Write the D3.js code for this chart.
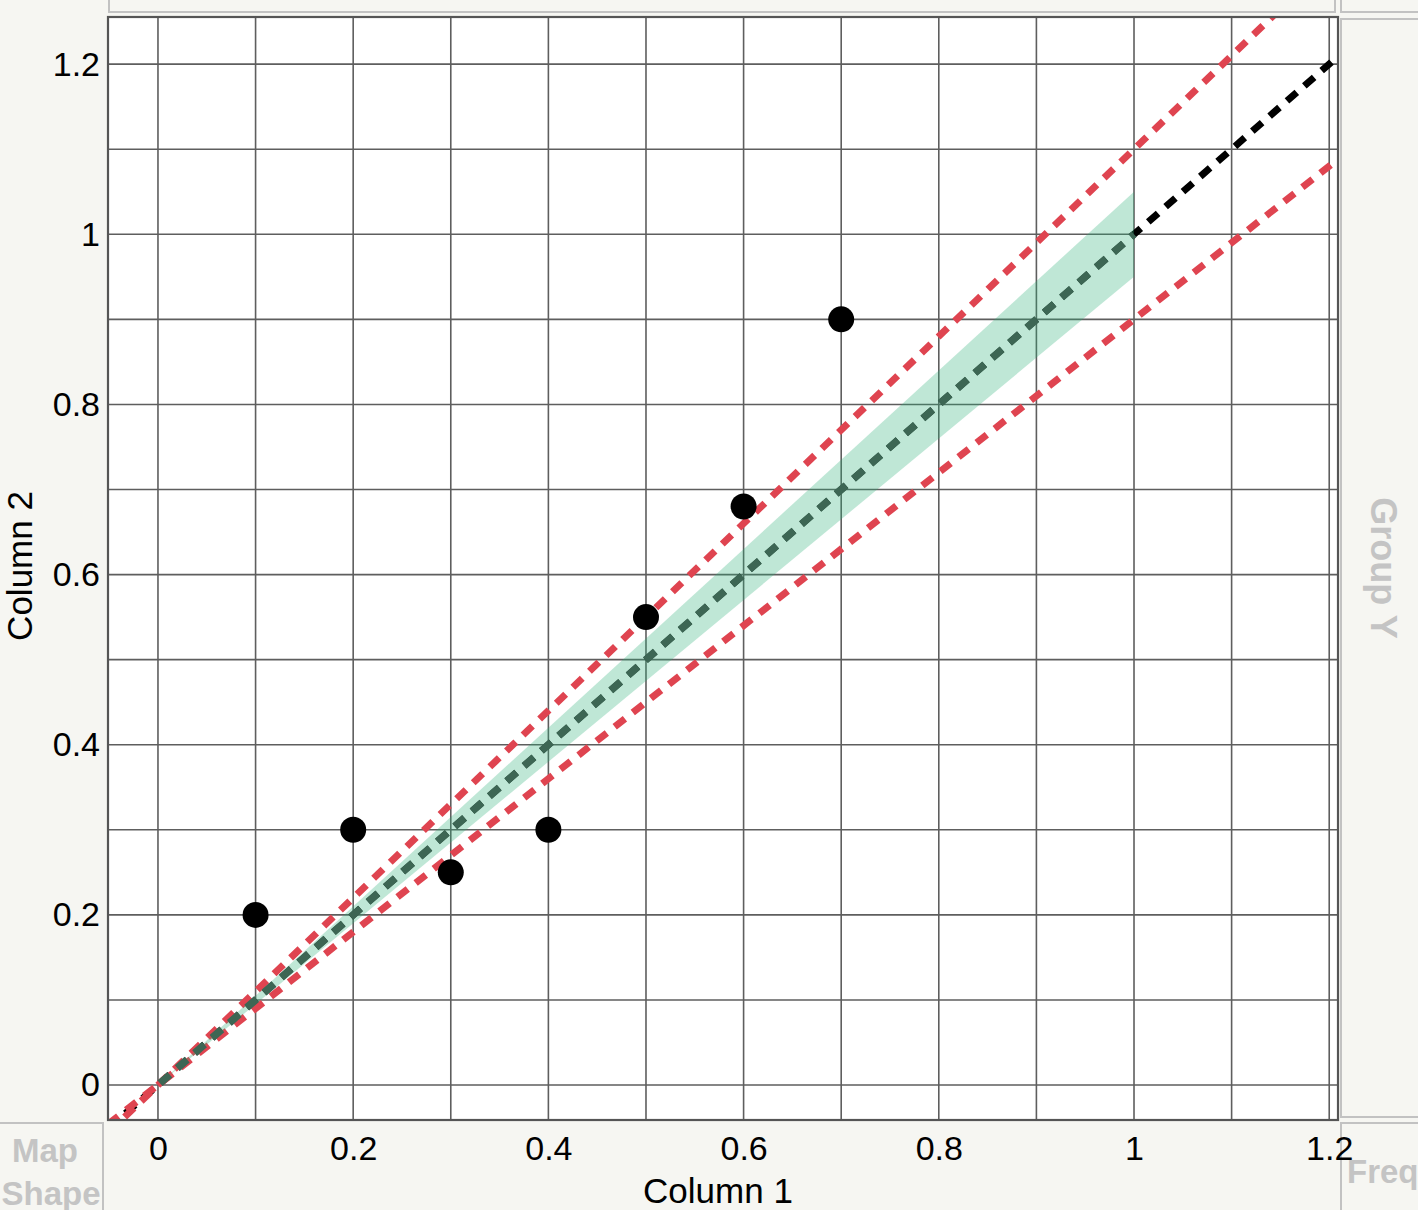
<!DOCTYPE html>
<html>
<head>
<meta charset="utf-8">
<script src="https://cdn.jsdelivr.net/npm/d3@7"></script>
<style>
  body { margin: 0; background: #f6f6f2; }
  svg text { font-family: "Liberation Sans", Arial, Helvetica, sans-serif; }
</style>
</head>
<body>
<div id="chart"></div>
<script>
// data
var col1 = [0.1, 0.2, 0.3, 0.4, 0.5, 0.6, 0.7];
var col2 = [0.2, 0.3, 0.25, 0.3, 0.55, 0.68, 0.9];
var xTicks = [0, 0.2, 0.4, 0.6, 0.8, 1, 1.2];
var yTicks = [0, 0.2, 0.4, 0.6, 0.8, 1, 1.2];
var gridVals = [0, 0.1, 0.2, 0.3, 0.4, 0.5, 0.6, 0.7, 0.8, 0.9, 1, 1.1, 1.2];
var limitSlopes = [1.1, 0.9];      // red dashed limits
var bandLow = 0.95, bandHigh = 1.05; // green band around y = x
var bandRange = [0, 1];

var W = 1418, H = 1210;
var pLeft = 108, pRight = 1338, pTop = 17, pBottom = 1120;
var dash = "13,10";

var svg = d3.select("#chart").append("svg")
    .attr("width", W)
    .attr("height", H);

var x = d3.scaleLinear().domain([-0.0512, 1.2090]).range([pLeft, pRight]);
var y = d3.scaleLinear().domain([-0.0411, 1.2554]).range([pBottom, pTop]);

// surrounding panels
svg.append("rect").attr("x", 109).attr("y", -2).attr("width", 1226).attr("height", 14)
    .attr("fill", "#f6f6f2").attr("stroke", "#c2c2c2").attr("stroke-width", 2);
svg.append("rect").attr("x", 1341).attr("y", -2).attr("width", 80).attr("height", 14)
    .attr("fill", "#f6f6f2").attr("stroke", "#c2c2c2").attr("stroke-width", 2);
svg.append("rect").attr("x", 1341).attr("y", 19).attr("width", 80).attr("height", 1098)
    .attr("fill", "#f6f6f2").attr("stroke", "#c2c2c2").attr("stroke-width", 2);
svg.append("rect").attr("x", 1341).attr("y", 1123).attr("width", 80).attr("height", 90)
    .attr("fill", "#f6f6f2").attr("stroke", "#c2c2c2").attr("stroke-width", 2);
svg.append("rect").attr("x", -2).attr("y", 1123).attr("width", 105).attr("height", 90)
    .attr("fill", "#f6f6f2").attr("stroke", "#c2c2c2").attr("stroke-width", 2);

svg.append("text").attr("transform", "translate(1371,568) rotate(90)")
    .attr("text-anchor", "middle").attr("font-size", 36).attr("font-weight", "bold")
    .attr("fill", "#c4c4c4").text("Group Y");
svg.append("text").attr("x", 45).attr("y", 1162).attr("text-anchor", "middle")
    .attr("font-size", 33).attr("font-weight", "bold").attr("fill", "#c4c4c4").text("Map");
svg.append("text").attr("x", 51).attr("y", 1205).attr("text-anchor", "middle")
    .attr("font-size", 33).attr("font-weight", "bold").attr("fill", "#c4c4c4").text("Shape");
svg.append("text").attr("x", 1347).attr("y", 1183)
    .attr("font-size", 33).attr("font-weight", "bold").attr("fill", "#c4c4c4").text("Freq");

// plot background
svg.append("rect").attr("x", pLeft).attr("y", pTop)
    .attr("width", pRight - pLeft).attr("height", pBottom - pTop).attr("fill", "#fff");

svg.append("clipPath").attr("id", "clip").append("rect")
    .attr("x", pLeft).attr("y", pTop).attr("width", pRight - pLeft).attr("height", pBottom - pTop);

var plot = svg.append("g").attr("clip-path", "url(#clip)");

// grid
plot.selectAll(".gx").data(gridVals).enter().append("line")
    .attr("x1", function(d) { return x(d); }).attr("x2", function(d) { return x(d); })
    .attr("y1", pTop).attr("y2", pBottom)
    .attr("stroke", "#5e5e5e").attr("stroke-width", 1.6);
plot.selectAll(".gy").data(gridVals).enter().append("line")
    .attr("y1", function(d) { return y(d); }).attr("y2", function(d) { return y(d); })
    .attr("x1", pLeft).attr("x2", pRight)
    .attr("stroke", "#5e5e5e").attr("stroke-width", 1.6);

var xd = x.domain();
var line = d3.line()
    .x(function(d) { return x(d[0]); })
    .y(function(d) { return y(d[1]); });

// y = x reference (black)
plot.append("path").datum([[xd[0], xd[0]], [xd[1], xd[1]]]).attr("d", line)
    .attr("fill", "none").attr("stroke", "#000").attr("stroke-width", 7)
    .attr("stroke-dasharray", dash);

// red limits
plot.selectAll(".lim").data(limitSlopes).enter().append("path")
    .attr("d", function(s) { return line([[xd[0], xd[0] * s], [xd[1], xd[1] * s]]); })
    .attr("fill", "none").attr("stroke", "#df4450").attr("stroke-width", 7)
    .attr("stroke-dasharray", dash);

// confidence band (translucent)
var area = d3.area()
    .x(function(d) { return x(d); })
    .y0(function(d) { return y(d * bandLow); })
    .y1(function(d) { return y(d * bandHigh); });
plot.append("path").datum(bandRange).attr("d", area)
    .attr("fill", "rgb(42,175,118)").attr("fill-opacity", 0.3);

// fit segment (dark green), dash phase aligned with the black line
var dx0 = x(bandRange[0]) - x(xd[0]), dy0 = y(bandRange[0]) - y(xd[0]);
var phase = Math.sqrt(dx0 * dx0 + dy0 * dy0);
plot.append("path").datum(bandRange.map(function(d) { return [d, d]; })).attr("d", line)
    .attr("fill", "none").attr("stroke", "#3d6654").attr("stroke-width", 7.5)
    .attr("stroke-dasharray", dash).attr("stroke-dashoffset", phase);

// points
plot.selectAll("circle").data(col1).enter().append("circle")
    .attr("cx", function(d) { return x(d); })
    .attr("cy", function(d, i) { return y(col2[i]); })
    .attr("r", 13).attr("fill", "#000");

// frame
svg.append("rect").attr("x", pLeft).attr("y", pTop)
    .attr("width", pRight - pLeft).attr("height", pBottom - pTop)
    .attr("fill", "none").attr("stroke", "#555").attr("stroke-width", 2.2);

// axes
var fmt = function(d) { return d === 0 ? "0" : d === 1 ? "1" : d3.format("")(d); };
var xAxis = svg.append("g").attr("transform", "translate(0," + pBottom + ")")
    .call(d3.axisBottom(x).tickValues(xTicks).tickSize(0).tickPadding(16).tickFormat(fmt));
var yAxis = svg.append("g").attr("transform", "translate(" + pLeft + ",0)")
    .call(d3.axisLeft(y).tickValues(yTicks).tickSize(0).tickPadding(8).tickFormat(fmt));
[xAxis, yAxis].forEach(function(a) {
    a.select(".domain").remove();
    a.selectAll("text").attr("font-size", 34).attr("fill", "#000")
        .attr("font-family", "'Liberation Sans', Arial, sans-serif");
});

svg.append("text").attr("x", 718).attr("y", 1203).attr("text-anchor", "middle")
    .attr("font-size", 35).attr("fill", "#000").text("Column 1");
svg.append("text").attr("transform", "translate(32,566) rotate(-90)")
    .attr("text-anchor", "middle").attr("font-size", 35).attr("fill", "#000").text("Column 2");
</script>
</body>
</html>
